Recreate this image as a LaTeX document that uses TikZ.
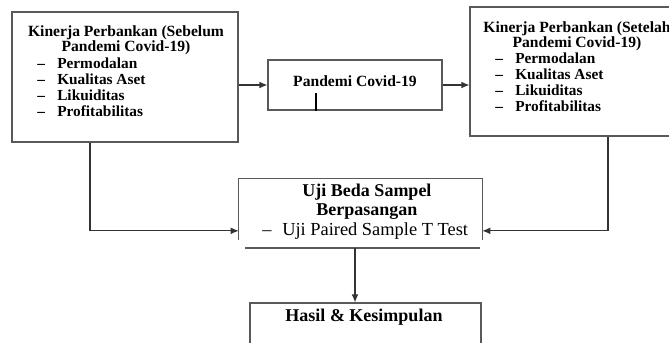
\documentclass[tikz,border=0pt]{standalone}
\usepackage{fontspec}
\setmainfont{Liberation Serif}
\usetikzlibrary{arrows.meta}

\newcommand{\itemdash}{\makebox[15pt][l]{--}}

\tikzset{
  box/.style={draw=black!65, line width=0.8pt, inner sep=0pt},
  headtext/.style={font=\fontsize{11.7}{11}\selectfont\bfseries, align=center, inner sep=0pt},
  itemtext/.style={font=\fontsize{11.5}{12}\selectfont\bfseries, align=left, inner sep=0pt, anchor=west},
  bigtext/.style={font=\fontsize{13.5}{14}\selectfont\bfseries, align=center, inner sep=0pt},
  arrow/.style={draw=black!80, line width=0.8pt, -{Latex[length=6pt,width=5pt]}}
}

\begin{document}
\begin{tikzpicture}[x=0.75pt, y=-0.75pt]
                \useasboundingbox (0,0) rectangle (669,343);
                \clip (0,0) rectangle (669,343);

                % boxes
                \node[box, minimum width=169.5pt, minimum height=97.5pt] (before) at (125,77) {};
                \node[box, minimum width=130.5pt, minimum height=37.5pt] (pandemi) at (355,85) {};
                \node[box, minimum width=160.5pt, minimum height=96.75pt] (after) at (577,71.5) {};
                \node[inner sep=0pt, minimum width=182.25pt, minimum height=45.75pt] (uji) at (360.5,209.5) {};
                \node[box, minimum width=173.25pt, minimum height=45pt] (hasil) at (365.5,333) {};

                % texts
                \node[headtext] (before_t) at (126,40) {Kinerja Perbankan (Sebelum\\Pandemi Covid-19)};
                \node[itemtext] (before_i) at (37,87) {\itemdash Permodalan\\\itemdash Kualitas Aset\\\itemdash Likuiditas\\\itemdash Profitabilitas};
                \node[headtext] (pandemi_t) at (355,81) {Pandemi Covid-19};
                \node[headtext] (after_t) at (577,36) {Kinerja Perbankan (Setelah\\Pandemi Covid-19)};
                \node[itemtext] (after_i) at (495,82) {\itemdash Permodalan\\\itemdash Kualitas Aset\\\itemdash Likuiditas\\\itemdash Profitabilitas};
                \node[bigtext] (uji_t) at (367,202) {Uji Beda Sampel\\Berpasangan};
                \node[font=\fontsize{13.8}{14}\selectfont, inner sep=0pt, anchor=west] (uji_i) at (262,231) {\itemdash Uji Paired Sample T Test};
                \node[bigtext] (hasil_t) at (364,317) {Hasil \& Kesimpulan};

                % open box and separate rule under it
                \draw[draw=black!65, line width=0.8pt] (uji.south west) |- (uji.north east) -- (uji.south east);
                \coordinate (ujirule_l) at (245,248);
                \coordinate (ujirule_r) at (480,248);
                \coordinate (ujirule_m) at (355,248);
                \draw[draw=black!65, line width=0.8pt] (ujirule_l) -- (ujirule_r);
                \draw[line width=0.8pt] (pandemi.south -| 316,0) -- ++(0,-18);

                % connectors
                \draw[arrow] (pandemi.west -| before.east) -- (pandemi.west);
                \draw[arrow] (pandemi.east) -- (pandemi.east -| after.west);
                \draw[arrow] (before.south -| 90,0) |- ([yshift=-16pt]uji.west);
                \draw[arrow] (after.south -| 608,0) |- ([yshift=-16pt]uji.east);
                \draw[arrow] (ujirule_m) -- (ujirule_m |- hasil.north);
            \end{tikzpicture}
\end{document}
